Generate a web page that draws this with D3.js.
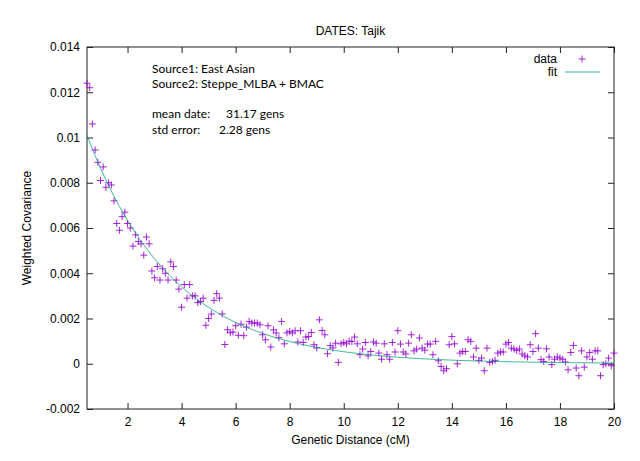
<!DOCTYPE html>
<html>
<head>
<meta charset="utf-8">
<script src="https://cdn.jsdelivr.net/npm/d3@7"></script>
<style>
  html, body { margin: 0; padding: 0; background: #fff; }
  svg { display: block; }
</style>
</head>
<body>
<svg id="chart" width="640" height="461"></svg>
<script>
// ---------- data ----------
const chartTitle = "DATES: Tajik";
const xLabel = "Genetic Distance (cM)";
const yLabel = "Weighted Covariance";
const annotations = ["Source1: East Asian", "Source2: Steppe_MLBA + BMAC"];
const statLabels = ["mean date:", "std error:"];
const statValues = ["31.17 gens", "2.28 gens"];
const legendLabels = ["data", "fit"];

const xTicks = [2, 4, 6, 8, 10, 12, 14, 16, 18, 20];
const xTickLabels = ["2", "4", "6", "8", "10", "12", "14", "16", "18", "20"];
const yTicks = [-0.002, 0, 0.002, 0.004, 0.006, 0.008, 0.01, 0.012, 0.014];
const yTickLabels = ["-0.002", "0", "0.002", "0.004", "0.006", "0.008", "0.01", "0.012", "0.014"];

const distance = [
  0.5,0.6,0.7,0.8,0.9,1.0,1.1,1.2,1.3,1.4,1.5,1.6,1.7,1.8,1.9,2.0,2.1,2.2,2.3,2.4,
  2.5,2.6,2.7,2.8,2.9,3.0,3.1,3.2,3.3,3.4,3.5,3.6,3.7,3.8,3.9,4.0,4.1,4.2,4.3,4.4,
  4.5,4.6,4.7,4.8,4.9,5.0,5.1,5.2,5.3,5.4,5.5,5.6,5.7,5.8,5.9,6.0,6.1,6.2,6.3,6.4,
  6.5,6.6,6.7,6.8,6.9,7.0,7.1,7.2,7.3,7.4,7.5,7.6,7.7,7.8,7.9,8.0,8.1,8.2,8.3,8.4,
  8.5,8.6,8.7,8.8,8.9,9.0,9.1,9.2,9.3,9.4,9.5,9.6,9.7,9.8,9.9,10.0,10.1,10.2,10.3,10.4,
  10.5,10.6,10.7,10.8,10.9,11.0,11.1,11.2,11.3,11.4,11.5,11.6,11.7,11.8,11.9,12.0,12.1,12.2,12.3,12.4,
  12.5,12.6,12.7,12.8,12.9,13.0,13.1,13.2,13.3,13.4,13.5,13.6,13.7,13.8,13.9,14.0,14.1,14.2,14.3,14.4,
  14.5,14.6,14.7,14.8,14.9,15.0,15.1,15.2,15.3,15.4,15.5,15.6,15.7,15.8,15.9,16.0,16.1,16.2,16.3,16.4,
  16.5,16.6,16.7,16.8,16.9,17.0,17.1,17.2,17.3,17.4,17.5,17.6,17.7,17.8,17.9,18.0,18.1,18.2,18.3,18.4,
  18.5,18.6,18.7,18.8,18.9,19.0,19.1,19.2,19.3,19.4,19.5,19.6,19.7,19.8,19.9,20.0
];
const covariance = [
  0.0124,0.0122,0.0106,0.00945,0.0089,0.0081,0.0087,0.0078,0.0080,0.0079,
  0.0072,0.0062,0.0059,0.0065,0.0067,0.0062,0.0060,0.0052,0.0057,0.0054,
  0.0053,0.0048,0.0056,0.0053,0.0041,0.0038,0.0043,0.0037,0.0042,0.0040,
  0.0037,0.0045,0.0043,0.0037,0.0033,0.0025,0.0035,0.0029,0.0035,0.0030,
  0.0030,0.0027,0.00275,0.0029,0.0017,0.0020,0.0022,0.0028,0.0031,0.0029,
  0.0022,0.00085,0.0015,0.00137,0.0014,0.00168,0.00126,0.00175,0.00124,0.00162,
  0.00187,0.0018,0.0018,0.0018,0.00172,0.00128,0.00106,0.00168,0.00074,0.0015,
  0.00136,0.00115,0.00187,0.00088,0.00136,0.00143,0.00136,0.00146,0.00096,0.00146,
  0.00094,0.00118,0.0012,0.00138,0.00084,0.0007,0.00194,0.00147,0.00128,0.00044,
  0.0008,0.0007,0.00091,0.00006,0.00088,0.00094,0.00088,0.001,0.00098,0.00118,
  0.00088,0.0004,0.00065,0.00094,0.00035,0.00054,0.00096,0.00091,0.00047,0.0002,
  0.00088,0.0004,0.0002,0.00094,0.00052,0.00146,0.00087,0.00052,0.00043,0.00091,
  0.00128,0.00057,0.00065,0.00114,0.00069,0.0006,0.00087,0.00087,0.0004,0.00099,
  0.00013,-0.00012,-0.00031,-0.00022,0.00084,0.0012,0.00088,0.0,0.00047,0.00054,
  0.00054,0.00106,0.00099,0.0003,0.00069,0.00015,0.00025,-0.00031,0.00069,0.00006,
  0.0001,0.00015,0.00047,0.00052,0.00052,0.00087,0.00094,0.00069,0.00065,0.00059,
  0.00065,0.00043,0.00035,0.0003,0.00084,0.00054,0.00133,0.00069,0.00018,0.0001,
  0.00066,0.0003,-0.00004,0.0002,0.0003,0.00025,0.0002,0.00008,-0.00027,0.0005,
  0.00081,-0.00019,-0.00053,0.00057,-0.00015,0.0003,0.0005,0.0002,0.00057,0.00057,
  -0.00053,-0.00004,0.0,0.00025,-0.00009,0.00047
];

// fit parameters: A * exp(-meanDate * d / 100) + c
const fitAmplitude = 0.0118;
const fitMeanDate = 31.17;
const fitOffset = 0.00001;

// ---------- layout ----------
const svg = d3.select("#chart");
const plotLeft = 87, plotRight = 614, plotTop = 47, plotBottom = 409;
const x = d3.scaleLinear().domain([0.5, 20]).range([plotLeft, plotRight]);
const y = d3.scaleLinear().domain([-0.002, 0.014]).range([plotBottom, plotTop]);
const axisFont = "'Liberation Sans', Arial, sans-serif";
const borderColor = "#222";
const dataColor = "#9400d3";
const fitColor = "#009e73";

function styleAxis(g, showText) {
  g.select(".domain").remove();
  g.selectAll(".tick line").attr("stroke", borderColor).attr("stroke-width", 1);
  g.selectAll(".tick text").attr("fill", "#000")
    .style("font-family", axisFont).style("font-size", "12px");
  if (!showText) g.selectAll(".tick text").remove();
}

// axes (gnuplot-style inward ticks, mirrored)
const gx = svg.append("g").attr("transform", `translate(0,${plotBottom})`)
  .call(d3.axisBottom(x).tickValues(xTicks).tickSize(-6).tickPadding(8)
    .tickFormat((d, i) => xTickLabels[i]));
styleAxis(gx, true);
const gxt = svg.append("g").attr("transform", `translate(0,${plotTop})`)
  .call(d3.axisTop(x).tickValues(xTicks).tickSize(-6));
styleAxis(gxt, false);
const gy = svg.append("g").attr("transform", `translate(${plotLeft},0)`)
  .call(d3.axisLeft(y).tickValues(yTicks).tickSize(-6).tickPadding(7)
    .tickFormat((d, i) => yTickLabels[i]));
styleAxis(gy, true);
const gyr = svg.append("g").attr("transform", `translate(${plotRight},0)`)
  .call(d3.axisRight(y).tickValues(yTicks).tickSize(-6));
styleAxis(gyr, false);

// border
svg.append("rect").attr("x", plotLeft).attr("y", plotTop)
  .attr("width", plotRight - plotLeft).attr("height", plotBottom - plotTop)
  .attr("fill", "none").attr("stroke", borderColor).attr("stroke-width", 1);

// clip
svg.append("clipPath").attr("id", "plotclip").append("rect")
  .attr("x", plotLeft - 4).attr("y", plotTop).attr("width", plotRight - plotLeft + 8).attr("height", plotBottom - plotTop);

const plot = svg.append("g").attr("clip-path", "url(#plotclip)");

// data points as "+"
const pts = distance.map((d, i) => ({ d: d, v: covariance[i] }));
const s = 3.5;
plot.selectAll("path.pt").data(pts).enter().append("path")
  .attr("class", "pt")
  .attr("d", p => {
    const cx = x(p.d), cy = y(p.v);
    return `M${cx - s},${cy}H${cx + s}M${cx},${cy - s}V${cy + s}`;
  })
  .attr("stroke", dataColor).attr("stroke-width", 1).attr("stroke-opacity", 0.85)
  .attr("fill", "none");

// fit curve
const fitLine = d3.line()
  .x(d => x(d))
  .y(d => y(fitAmplitude * Math.exp(-fitMeanDate * d / 100) + fitOffset))
  .curve(d3.curveMonotoneX);
plot.append("path").datum(distance).attr("d", fitLine)
  .attr("fill", "none").attr("stroke", fitColor).attr("stroke-width", 1)
  .attr("stroke-opacity", 0.75);

// title and axis labels
svg.append("text").attr("x", (plotLeft + plotRight) / 2).attr("y", 35)
  .attr("text-anchor", "middle").style("font-family", axisFont).style("font-size", "12px")
  .text(chartTitle);
svg.append("text").attr("x", (plotLeft + plotRight) / 2).attr("y", 444)
  .attr("text-anchor", "middle").style("font-family", axisFont).style("font-size", "12px")
  .text(xLabel);
svg.append("text").attr("transform", `translate(31,${(plotTop + plotBottom) / 2}) rotate(-90)`)
  .attr("text-anchor", "middle").style("font-family", axisFont).style("font-size", "12px")
  .text(yLabel);

// annotation block
const annFont = "Lato, 'Open Sans', sans-serif";
annotations.forEach((t, i) => {
  svg.append("text").attr("x", 152).attr("y", 73 + i * 15)
    .style("font-family", annFont).style("font-size", "12px").attr("fill", "#000").text(t);
});
statLabels.forEach((t, i) => {
  svg.append("text").attr("x", 152).attr("y", 118 + i * 16)
    .style("font-family", annFont).style("font-size", "12px").attr("fill", "#000").text(t);
});
const statX = [226, 219];
statValues.forEach((t, i) => {
  svg.append("text").attr("x", statX[i]).attr("y", 118 + i * 16)
    .style("font-family", annFont).style("font-size", "12px").attr("fill", "#000").text(t);
});

// legend
svg.append("text").attr("x", 557).attr("y", 63).attr("text-anchor", "end")
  .style("font-family", axisFont).style("font-size", "12px").text(legendLabels[0]);
svg.append("path").attr("d", `M${582 - s},59H${582 + s}M582,${59 - s}V${59 + s}`)
  .attr("stroke", dataColor).attr("stroke-width", 1).attr("stroke-opacity", 0.85);
svg.append("text").attr("x", 557).attr("y", 76).attr("text-anchor", "end")
  .style("font-family", axisFont).style("font-size", "12px").text(legendLabels[1]);
svg.append("line").attr("x1", 565).attr("x2", 600).attr("y1", 72).attr("y2", 72)
  .attr("stroke", fitColor).attr("stroke-width", 1).attr("stroke-opacity", 0.75);
</script>
</body>
</html>
